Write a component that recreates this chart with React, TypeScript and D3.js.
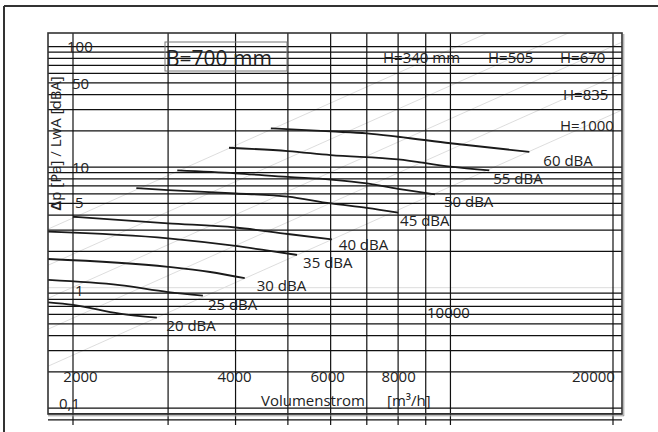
import React from "react";
import * as d3 from "d3";

// ---------- data ----------
const xGridValues = [2000, 3000, 4000, 5000, 6000, 7000, 8000, 9000, 10000, 20000];
const yGridValues = [
  0.08, 0.09, 0.1, 0.2, 0.3, 0.4, 0.5, 0.6, 0.7, 0.8, 0.9,
  1, 2, 3, 4, 5, 6, 7, 8, 9,
  10, 20, 30, 40, 50, 60, 70, 80, 90, 100,
];
const xTickValues = [2000, 4000, 6000, 8000, 10000, 20000];
const xTickLabels = ["2000", "4000", "6000", "8000", "10000", "20000"];
const yTickValues = [100, 50, 10, 5, 1, 0.1];
const yTickLabels = ["100", "50", "10", "5", "1", "0,1"];

const dbaLabels = ["20 dBA", "25 dBA", "30 dBA", "35 dBA", "40 dBA", "45 dBA", "50 dBA", "55 dBA", "60 dBA"];
const curve20: [number, number][] = [[1800, 0.756], [2000, 0.72], [2440, 0.61], [2860, 0.565]];
const curve25: [number, number][] = [[1800, 1.16], [2440, 1.05], [3000, 0.92], [3480, 0.86]];
const curve30: [number, number][] = [[1800, 1.73], [3000, 1.49], [3590, 1.35], [4160, 1.2]];
const curve35: [number, number][] = [[1800, 2.92], [3000, 2.57], [4000, 2.22], [4630, 2.02], [5200, 1.87]];
const curve40: [number, number][] = [[2000, 3.88], [3000, 3.42], [4000, 3.16], [5000, 2.79], [6030, 2.52]];
const curve45: [number, number][] = [[2620, 6.7], [3000, 6.45], [4000, 6.05], [5000, 5.7], [6000, 5.0], [7000, 4.6], [8000, 4.2]];
const curve50: [number, number][] = [[3120, 9.4], [4000, 8.9], [5000, 8.3], [6000, 7.9], [7000, 7.35], [8000, 6.6], [9360, 5.96]];
const curve55: [number, number][] = [[3890, 14.5], [5000, 13.6], [6000, 12.6], [8000, 11.6], [10000, 10.1], [11800, 9.4]];
const curve60: [number, number][] = [[4650, 21], [6000, 19.8], [7000, 19.1], [8000, 17.9], [10000, 15.8], [14000, 13.4]];
const dbaCurves = [curve20, curve25, curve30, curve35, curve40, curve45, curve50, curve55, curve60];

const hLabels = ["H=340 mm", "H=505", "H=670", "H=835", "H=1000"];
const hDpAt2000 = [3.79, 1.9, 1.01, 0.56, 0.276];

// ---------- layout ----------
const W = 658, H = 432;
const plot = { left: 48, top: 33, right: 622, bottom: 414 };
const gridBottom = 425;
const FONT = "'Open Sans', 'DejaVu Sans', sans-serif";
const TXT = "#222";
const xTickNudge: [number, number][] = [[7.5, 382], [-1, 382], [-3, 382], [0.5, 382], [-2, 318], [-19.5, 382]];
const yTickNudge: [number, number][] = [[67, 5.3], [72, 6], [72, 5.8], [75, 4.5], [75, 8.3], [59, 0.8]];
const dbaLabelNudge: [number, number][] = [[9.5, 13], [5, 14], [12, 12.4], [6, 13.3], [7, 11], [2, 13.4], [9, 12.7], [4, 13.7], [14, 14]];
const hLabelPos: [number, number][] = [[383, 63], [488, 63], [560, 63], [563, 100], [560, 131]];

export default function App() {
  const x = d3.scaleLog().domain([2000, 20000]).range([73, 613]);
  const y = d3.scaleLog().domain([1, 100]).range([287.7, 46.7]);
  const line = d3
    .line<[number, number]>()
    .x((d) => x(d[0]))
    .y((d) => y(d[1]))
    .curve(d3.curveMonotoneX);
  const straight = d3
    .line<[number, number]>()
    .x((d) => x(d[0]))
    .y((d) => y(d[1]));
  const vMin = 1700, vMax = 22000;

  return (
    <svg
      width={W}
      height={H}
      style={{ position: "fixed", left: 0, top: 0, background: "#fff" }}
      fontFamily={FONT}
    >
      <defs>
        <clipPath id="plotclip">
          <rect x={plot.left} y={plot.top} width={plot.right - plot.left} height={plot.bottom - plot.top} />
        </clipPath>
      </defs>
      <rect x={0} y={0} width={W} height={H} fill="#fff" />
      {/* outer frame */}
      <line x1={4} y1={6} x2={W} y2={6} stroke="#333" strokeWidth={2} />
      <line x1={4} y1={6} x2={4} y2={H} stroke="#333" strokeWidth={2} />

      {/* gray diagonal H lines */}
      <g clipPath="url(#plotclip)">
        {hDpAt2000.map((c, i) => (
          <path
            key={"h" + i}
            d={straight([
              [vMin, c * (vMin / 2000) ** 2],
              [vMax, c * (vMax / 2000) ** 2],
            ]) as string}
            stroke="#d4d4d4"
            strokeWidth={0.8}
            fill="none"
          />
        ))}
      </g>

      {/* horizontal grid */}
      {yGridValues.map((v, i) => (
        <line
          key={"hg" + i}
          x1={plot.left}
          x2={plot.right}
          y1={y(v)}
          y2={y(v)}
          stroke={v === 1 ? "#dcdcdc" : "#111"}
          strokeWidth={v === 1 ? 1 : 1.2}
        />
      ))}
      {/* vertical grid */}
      {xGridValues.map((v, i) => (
        <line
          key={"vg" + i}
          x1={x(v)}
          x2={x(v)}
          y1={plot.top}
          y2={gridBottom}
          stroke="#111"
          strokeWidth={1.2}
        />
      ))}

      {/* plot border */}
      <rect
        x={plot.left}
        y={plot.top}
        width={plot.right - plot.left}
        height={plot.bottom - plot.top}
        fill="none"
        stroke="#333"
        strokeWidth={1.6}
      />
      <line x1={plot.right + 1.8} x2={plot.right + 1.8} y1={plot.top + 1} y2={plot.bottom + 2} stroke="#999" strokeWidth={1} />
      <line x1={plot.left} x2={plot.right + 2} y1={plot.bottom + 1.8} y2={plot.bottom + 1.8} stroke="#999" strokeWidth={1} />

      {/* dBA curves */}
      {dbaCurves.map((c, i) => (
        <path key={"c" + i} d={line(c) as string} fill="none" stroke="#1a1a1a" strokeWidth={1.8} />
      ))}
      {dbaCurves.map((c, i) => {
        const last = c[c.length - 1];
        return (
          <text
            key={"cl" + i}
            x={x(last[0]) + dbaLabelNudge[i][0]}
            y={y(last[1]) + dbaLabelNudge[i][1]}
            fontSize={15}
            fill={TXT}
          >
            {dbaLabels[i]}
          </text>
        );
      })}

      {/* x tick labels */}
      {xTickValues.map((v, i) => (
        <text
          key={"xt" + i}
          x={x(v) + xTickNudge[i][0]}
          y={xTickNudge[i][1]}
          textAnchor="middle"
          fontSize={15}
          fill={TXT}
        >
          {xTickLabels[i]}
        </text>
      ))}
      {/* y tick labels */}
      {yTickValues.map((v, i) => (
        <text key={"yt" + i} x={yTickNudge[i][0]} y={y(v) + yTickNudge[i][1]} fontSize={15} fill={TXT}>
          {yTickLabels[i]}
        </text>
      ))}

      {/* H labels */}
      {hLabels.map((t, i) => (
        <text key={"hl" + i} x={hLabelPos[i][0]} y={hLabelPos[i][1]} fontSize={15} fill={TXT}>
          {t}
        </text>
      ))}

      {/* title box */}
      <rect x={165} y={42} width={122} height={29} fill="none" stroke="#777" strokeWidth={1} />
      <text x={166} y={65.5} fontSize={21} fill={TXT}>
        B=700 mm
      </text>

      {/* axis titles */}
      <text x={261} y={406} fontSize={15} fill={TXT}>
        Volumenstrom
        <tspan x={387}>[m³/h]</tspan>
      </text>
      <text
        transform="translate(61,143.5) rotate(-90)"
        textAnchor="middle"
        fontSize={15}
        fill={TXT}
      >
        <tspan fontWeight="bold">Δ</tspan>p [Pa] / LwA [dBA]
      </text>
    </svg>
  );
}
